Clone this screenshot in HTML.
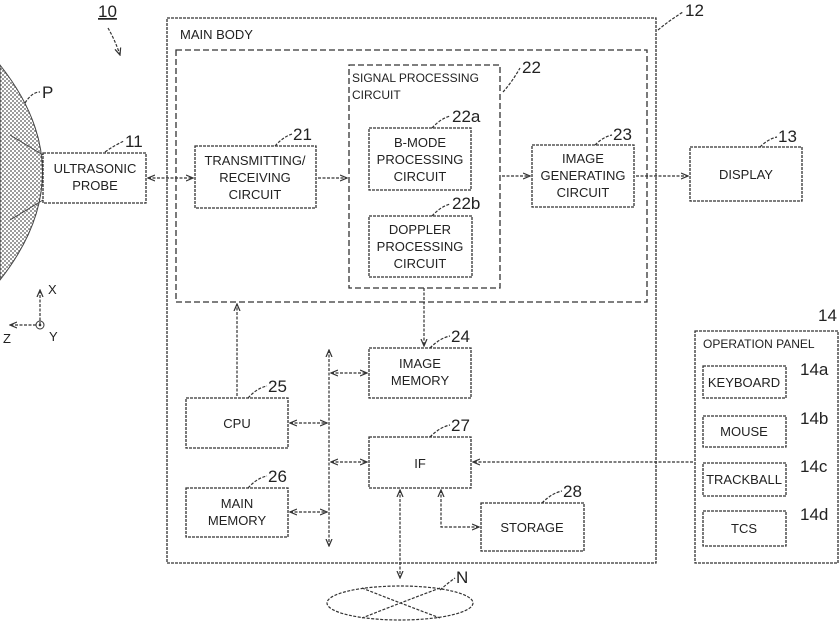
<!DOCTYPE html>
<html><head><meta charset="utf-8"><style>
html,body{margin:0;padding:0;background:#fff;}
svg{display:block;}
text{font-family:"Liberation Sans",sans-serif;fill:#222;}
.b{fill:#fff;stroke:#333;stroke-width:1.3;stroke-dasharray:3 1;}
.l{stroke:#333;stroke-width:1.2;fill:none;stroke-dasharray:3 1.5;}
.t{font-size:13px;text-anchor:middle;font-family:"Liberation Sans Narrow","Liberation Sans",sans-serif;}
.n{font-size:17px;}
</style></head><body>
<svg width="839" height="623" viewBox="0 0 839 623" xmlns="http://www.w3.org/2000/svg">
<defs>
<pattern id="dots" width="4" height="4" patternUnits="userSpaceOnUse"><rect width="4" height="4" fill="#fff"/><circle cx="1" cy="1" r="0.9" fill="#555"/><circle cx="3" cy="3" r="0.9" fill="#555"/></pattern>
<marker id="a" markerWidth="8" markerHeight="8" refX="7" refY="4" orient="auto-start-reverse" markerUnits="userSpaceOnUse"><path d="M0,1 L7,4 L0,7" fill="none" stroke="#333" stroke-width="1.2"/></marker>
</defs>
<!-- patient -->
<path d="M0,65 Q85,172 0,280 Z" fill="url(#dots)" stroke="#444" stroke-width="1"/>
<path d="M10,135 L43,155 M10,220 L43,200" stroke="#444" stroke-width="1" fill="none"/>
<text x="42" y="98" class="n">P</text><path d="M25,103 Q32,92 40,92" class="l"/>
<text x="98" y="17" class="n" style="text-decoration:underline">10</text>
<path d="M108,28 Q115,40 120,55" class="l" marker-end="url(#a)"/>
<!-- axes -->
<path d="M40,325 L40,290" class="l" marker-end="url(#a)"/><text x="48" y="294" font-size="13">X</text>
<path d="M36,325 L10,325" class="l" marker-end="url(#a)"/><text x="3" y="343" font-size="13">Z</text>
<circle cx="40" cy="325" r="4" fill="none" stroke="#333"/><circle cx="40" cy="325" r="1.3" fill="#333"/><text x="49" y="341" font-size="13">Y</text>
<!-- probe -->
<rect x="43" y="153" width="103" height="50" class="b"/>
<text x="95" y="173" class="t">ULTRASONIC</text><text x="95" y="190" class="t">PROBE</text>
<text x="125" y="147" class="n">11</text><path d="M105,152 Q115,145 124,141" class="l"/>
<!-- main body -->
<rect x="167" y="18" width="489" height="545" class="b"/>
<text x="180" y="39" font-size="13">MAIN BODY</text>
<text x="685" y="16" class="n">12</text><path d="M658,30 Q670,20 683,12" class="l"/>
<rect x="176" y="50" width="471" height="252" class="b" style="stroke-dasharray:6 3"/>
<rect x="349" y="65" width="151" height="223" class="b" style="stroke-dasharray:6 3"/>
<text x="352" y="82" font-size="12">SIGNAL PROCESSING</text><text x="352" y="99" font-size="12">CIRCUIT</text>
<text x="522" y="73" class="n">22</text><path d="M503,92 Q512,82 520,68" class="l"/>
<rect x="195" y="146" width="121" height="62" class="b"/>
<text x="255" y="165" class="t">TRANSMITTING/</text><text x="255" y="182" class="t">RECEIVING</text><text x="255" y="199" class="t">CIRCUIT</text>
<text x="293" y="140" class="n">21</text><path d="M275,146 Q283,137 292,134" class="l"/>
<rect x="369" y="128" width="102" height="62" class="b"/>
<text x="420" y="147" class="t">B-MODE</text><text x="420" y="164" class="t">PROCESSING</text><text x="420" y="181" class="t">CIRCUIT</text>
<text x="452" y="122" class="n">22a</text><path d="M432,128 Q440,119 450,116" class="l"/>
<rect x="369" y="216" width="103" height="61" class="b"/>
<text x="420" y="234" class="t">DOPPLER</text><text x="420" y="251" class="t">PROCESSING</text><text x="420" y="268" class="t">CIRCUIT</text>
<text x="452" y="209" class="n">22b</text><path d="M432,216 Q440,207 450,204" class="l"/>
<rect x="532" y="145" width="102" height="62" class="b"/>
<text x="583" y="163" class="t">IMAGE</text><text x="583" y="180" class="t">GENERATING</text><text x="583" y="197" class="t">CIRCUIT</text>
<text x="613" y="140" class="n">23</text><path d="M595,145 Q603,137 612,135" class="l"/>
<rect x="690" y="147" width="112" height="54" class="b"/>
<text x="746" y="179" class="t">DISPLAY</text>
<text x="778" y="142" class="n">13</text><path d="M760,147 Q768,139 777,137" class="l"/>
<!-- lower -->
<rect x="369" y="348" width="102" height="50" class="b"/>
<text x="420" y="368" class="t">IMAGE</text><text x="420" y="385" class="t">MEMORY</text>
<text x="451" y="342" class="n">24</text><path d="M430,348 Q440,338 450,336" class="l"/>
<rect x="186" y="398" width="102" height="50" class="b"/><text x="237" y="428" class="t">CPU</text>
<text x="268" y="392" class="n">25</text><path d="M248,398 Q257,388 267,386" class="l"/>
<rect x="186" y="488" width="102" height="49" class="b"/>
<text x="237" y="508" class="t">MAIN</text><text x="237" y="525" class="t">MEMORY</text>
<text x="268" y="482" class="n">26</text><path d="M248,488 Q257,478 267,476" class="l"/>
<rect x="369" y="437" width="102" height="51" class="b"/><text x="420" y="468" class="t" font-size="15">IF</text>
<text x="451" y="431" class="n">27</text><path d="M430,437 Q440,427 450,425" class="l"/>
<rect x="481" y="503" width="103" height="48" class="b"/><text x="532" y="532" class="t">STORAGE</text>
<text x="563" y="497" class="n">28</text><path d="M542,503 Q552,493 562,491" class="l"/>
<!-- op panel -->
<rect x="695" y="331" width="143" height="232" class="b"/>
<text x="703" y="348" font-size="12">OPERATION PANEL</text>
<text x="818" y="321" class="n">14</text>
<rect x="703" y="366" width="83" height="32" class="b"/><text x="744" y="387" class="t">KEYBOARD</text><text x="800" y="375" class="n">14a</text>
<rect x="703" y="416" width="83" height="31" class="b"/><text x="744" y="436" class="t">MOUSE</text><text x="800" y="424" class="n">14b</text>
<rect x="703" y="463" width="83" height="33" class="b"/><text x="744" y="484" class="t">TRACKBALL</text><text x="800" y="472" class="n">14c</text>
<rect x="703" y="511" width="83" height="35" class="b"/><text x="744" y="533" class="t">TCS</text><text x="800" y="520" class="n">14d</text>
<!-- connectors -->
<path d="M148,178 L193,178" class="l" marker-start="url(#a)" marker-end="url(#a)"/>
<path d="M318,178 L347,178" class="l" marker-end="url(#a)"/>
<path d="M502,176 L530,176" class="l" marker-end="url(#a)"/>
<path d="M636,176 L688,176" class="l" marker-end="url(#a)"/>
<path d="M424,288 L424,346" class="l" marker-end="url(#a)"/>
<path d="M237,396 L237,304" class="l" marker-end="url(#a)"/>
<path d="M329,350 L329,546" class="l" marker-start="url(#a)" marker-end="url(#a)"/>
<path d="M331,373 L367,373" class="l" marker-start="url(#a)" marker-end="url(#a)"/>
<path d="M290,423 L327,423" class="l" marker-start="url(#a)" marker-end="url(#a)"/>
<path d="M331,462 L367,462" class="l" marker-start="url(#a)" marker-end="url(#a)"/>
<path d="M290,512 L327,512" class="l" marker-start="url(#a)" marker-end="url(#a)"/>
<path d="M693,462 L473,462" class="l" marker-end="url(#a)"/>
<path d="M441,490 L441,527 L479,527" class="l" marker-start="url(#a)" marker-end="url(#a)"/>
<path d="M400,490 L400,578" class="l" marker-start="url(#a)" marker-end="url(#a)"/>
<ellipse cx="400" cy="603" rx="73" ry="17" fill="none" stroke="#333" stroke-width="1.2" stroke-dasharray="3 1.5"/>
<path d="M362,588 Q400,603 440,618 M440,588 Q400,603 362,618" class="l"/>
<text x="456" y="583" class="n">N</text><path d="M440,590 Q448,583 455,578" class="l"/>
</svg>
</body></html>
